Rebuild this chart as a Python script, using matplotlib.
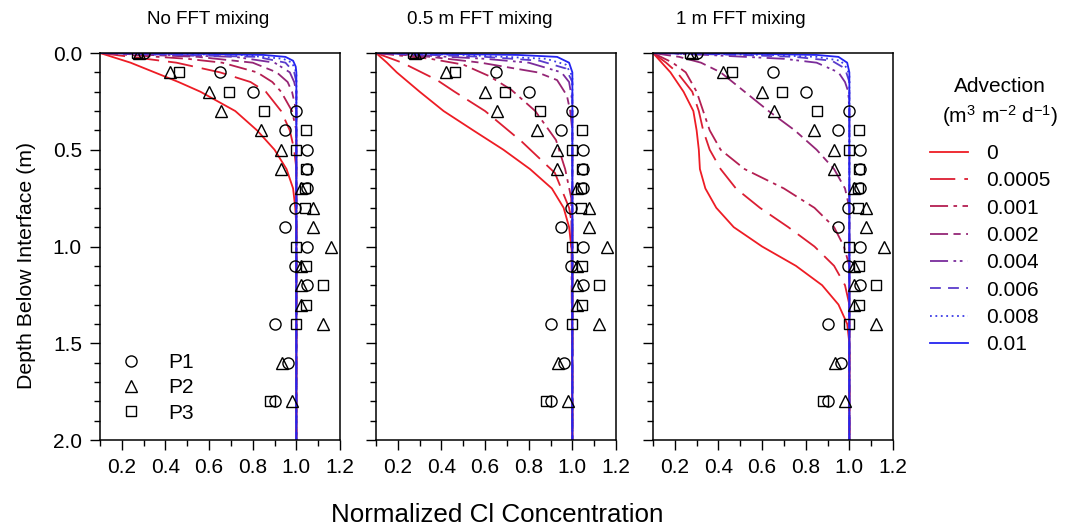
import matplotlib
matplotlib.use('Agg')
import matplotlib.pyplot as plt
from matplotlib.ticker import MultipleLocator, FormatStrFormatter

plt.rcParams['font.family'] = ['Liberation Sans', 'DejaVu Sans']
plt.rcParams['mathtext.fontset'] = 'custom'
plt.rcParams['mathtext.rm'] = 'Liberation Sans'
plt.rcParams['mathtext.it'] = 'Liberation Sans:italic'

# advection rates (m3 m-2 d-1)
adv_labels = ['0', '0.0005', '0.001', '0.002', '0.004', '0.006', '0.008', '0.01']
panel_titles = ['No FFT mixing', '0.5 m FFT mixing', '1 m FFT mixing']

# observed profiles (same data in every panel)
p1_depth = [0, 0.1, 0.2, 0.3, 0.4, 0.5, 0.6, 0.7, 0.8, 0.9, 1.0, 1.1, 1.2, 1.4, 1.6, 1.8]
p1_conc = [0.30, 0.65, 0.80, 1.00, 0.95, 1.05, 1.05, 1.05, 0.995, 0.95, 1.05, 0.995, 1.05, 0.90, 0.96, 0.90]
p2_depth = [0, 0.1, 0.2, 0.3, 0.4, 0.5, 0.6, 0.7, 0.8, 0.9, 1.0, 1.1, 1.2, 1.3, 1.4, 1.6, 1.8]
p2_conc = [0.28, 0.42, 0.60, 0.655, 0.84, 0.93, 0.93, 1.02, 1.075, 1.075, 1.16, 1.02, 1.02, 1.02, 1.12, 0.935, 0.98]
p3_depth = [0, 0.1, 0.2, 0.3, 0.4, 0.5, 0.6, 0.7, 0.8, 1.0, 1.1, 1.2, 1.3, 1.4, 1.8]
p3_conc = [0.27, 0.46, 0.69, 0.85, 1.045, 1.00, 1.045, 1.04, 1.04, 1.00, 1.045, 1.12, 1.045, 1.00, 0.88]

# modelled profiles, no FFT mixing
nofft_depth = [
    [0, 0.05, 0.1, 0.15, 0.2, 0.3, 0.4, 0.5, 0.6, 0.7, 0.8, 0.9, 2.0],
    [0, 0.05, 0.1, 0.15, 0.2, 0.3, 0.4, 0.5, 0.6, 2.0],
    [0, 0.03, 0.05, 0.1, 0.15, 0.2, 0.3, 0.4, 2.0],
    [0, 0.02, 0.05, 0.1, 0.15, 0.2, 0.3, 2.0],
    [0, 0.02, 0.05, 0.1, 0.15, 0.2, 2.0],
    [0, 0.02, 0.05, 0.1, 0.15, 2.0],
    [0, 0.01, 0.03, 0.05, 0.1, 2.0],
    [0, 0.005, 0.01, 0.02, 0.04, 0.07, 0.1, 2.0],
]
nofft_conc = [
    [0.1, 0.24, 0.35, 0.46, 0.56, 0.72, 0.82, 0.90, 0.955, 0.985, 0.995, 1.0, 1.0],
    [0.1, 0.45, 0.65, 0.79, 0.86, 0.93, 0.97, 0.99, 1.0, 1.0],
    [0.1, 0.5, 0.66, 0.82, 0.89, 0.93, 0.98, 1.0, 1.0],
    [0.1, 0.55, 0.80, 0.91, 0.96, 0.98, 1.0, 1.0],
    [0.1, 0.72, 0.90, 0.97, 0.99, 1.0, 1.0],
    [0.1, 0.82, 0.95, 0.99, 1.0, 1.0],
    [0.1, 0.75, 0.94, 0.98, 1.0, 1.0],
    [0.1, 0.6, 0.85, 0.95, 0.985, 0.997, 1.0, 1.0],
]

# modelled profiles, 0.5 m FFT mixing
fft05_depth = [
    [0, 0.05, 0.1, 0.2, 0.3, 0.4, 0.5, 0.6, 0.7, 0.8, 0.9, 1.0, 1.05, 2.0],
    [0, 0.05, 0.14, 0.2, 0.3, 0.46, 0.62, 0.8, 0.9, 2.0],
    [0, 0.03, 0.06, 0.12, 0.19, 0.3, 0.45, 0.6, 0.75, 2.0],
    [0, 0.02, 0.05, 0.1, 0.14, 0.22, 0.3, 0.4, 2.0],
    [0, 0.03, 0.05, 0.1, 0.15, 0.25, 2.0],
    [0, 0.02, 0.04, 0.08, 0.15, 2.0],
    [0, 0.01, 0.03, 0.06, 0.12, 2.0],
    [0, 0.01, 0.02, 0.05, 0.1, 2.0],
]
fft05_conc = [
    [0.1, 0.15, 0.195, 0.30, 0.41, 0.546, 0.684, 0.806, 0.906, 0.96, 0.985, 0.995, 1.0, 1.0],
    [0.1, 0.22, 0.38, 0.46, 0.60, 0.77, 0.92, 0.985, 1.0, 1.0],
    [0.1, 0.35, 0.50, 0.62, 0.72, 0.83, 0.925, 0.967, 0.995, 1.0],
    [0.1, 0.35, 0.58, 0.84, 0.93, 0.975, 0.99, 1.0, 1.0],
    [0.1, 0.6, 0.8, 0.95, 0.985, 1.0, 1.0],
    [0.1, 0.6, 0.85, 0.97, 1.0, 1.0],
    [0.1, 0.5, 0.88, 0.97, 1.0, 1.0],
    [0.1, 0.75, 0.93, 0.985, 1.0, 1.0],
]

# modelled profiles, 1 m FFT mixing
fft1_depth = [
    [0, 0.05, 0.1, 0.15, 0.2, 0.3, 0.4, 0.5, 0.6, 0.7, 0.8, 0.9, 1.0, 1.1, 1.2, 1.3, 1.4, 1.5, 2.0],
    [0, 0.05, 0.1, 0.2, 0.3, 0.4, 0.5, 0.6, 0.7, 0.8, 0.9, 1.0, 1.1, 1.2, 1.3, 2.0],
    [0, 0.05, 0.1, 0.2, 0.3, 0.4, 0.5, 0.6, 0.7, 0.8, 0.9, 1.0, 1.1, 2.0],
    [0, 0.02, 0.05, 0.1, 0.2, 0.3, 0.4, 0.5, 0.6, 0.7, 0.8, 2.0],
    [0, 0.01, 0.03, 0.05, 0.1, 0.15, 0.2, 0.3, 2.0],
    [0, 0.01, 0.02, 0.04, 0.08, 0.15, 2.0],
    [0, 0.01, 0.02, 0.04, 0.08, 0.12, 2.0],
    [0, 0.005, 0.01, 0.02, 0.05, 0.1, 2.0],
]
fft1_conc = [
    [0.1, 0.14, 0.18, 0.21, 0.24, 0.285, 0.30, 0.31, 0.315, 0.34, 0.39, 0.47, 0.60, 0.755, 0.875, 0.95, 0.99, 1.0, 1.0],
    [0.1, 0.16, 0.21, 0.28, 0.31, 0.33, 0.36, 0.41, 0.48, 0.59, 0.72, 0.84, 0.93, 0.98, 1.0, 1.0],
    [0.1, 0.19, 0.25, 0.30, 0.33, 0.36, 0.41, 0.52, 0.70, 0.84, 0.93, 0.975, 1.0, 1.0],
    [0.1, 0.22, 0.32, 0.41, 0.52, 0.63, 0.75, 0.85, 0.93, 0.98, 1.0, 1.0],
    [0.1, 0.35, 0.70, 0.85, 0.95, 0.98, 0.995, 1.0, 1.0],
    [0.1, 0.5, 0.75, 0.92, 0.98, 1.0, 1.0],
    [0.1, 0.62, 0.85, 0.96, 0.99, 1.0, 1.0],
    [0.1, 0.6, 0.85, 0.95, 0.99, 1.0, 1.0],
]

colors = ['#ee1c24', '#dc1e32', '#b41f52', '#942676', '#7a2c9c', '#5a3ccc', '#3c3ce6', '#2424f0']
styles = ['-', (0, (14, 5)), (0, (10, 3, 2, 3)), (0, (10, 3, 4, 3)),
          (0, (10, 3, 1.5, 2, 1.5, 3)), (0, (6, 4)), (0, (1, 2)), '-']

fig = plt.figure(figsize=(10.7, 5.3), dpi=100)
lefts = [100, 376, 653]
axes = [fig.add_axes([l / 1070, 90 / 530, 240 / 1070, 387 / 530]) for l in lefts]
title_x = [208, 480, 741]

model_depth = [nofft_depth, fft05_depth, fft1_depth]
model_conc = [nofft_conc, fft05_conc, fft1_conc]

for k, ax in enumerate(axes):
    for i in range(len(adv_labels)):
        ax.plot(model_conc[k][i], model_depth[k][i], color=colors[i], linestyle=styles[i],
                lw=1.3, label=adv_labels[i], zorder=2)
    ax.plot(p1_conc, p1_depth, 'o', ms=8, mfc='none', mec='black', mew=1, label='P1', zorder=3)
    ax.plot(p2_conc, p2_depth, '^', ms=8, mfc='none', mec='black', mew=1, label='P2', zorder=3)
    ax.plot(p3_conc, p3_depth, 's', ms=7, mfc='none', mec='black', mew=1, label='P3', zorder=3)

    ax.set_xlim(0.1, 1.2)
    ax.set_ylim(2.0, 0.0)
    ax.set_xticks([0.2, 0.4, 0.6, 0.8, 1.0, 1.2])
    ax.xaxis.set_minor_locator(MultipleLocator(0.1))
    ax.set_yticks([0.0, 0.5, 1.0, 1.5, 2.0])
    ax.yaxis.set_minor_locator(MultipleLocator(0.1))
    ax.xaxis.set_major_formatter(FormatStrFormatter('%.1f'))
    ax.yaxis.set_major_formatter(FormatStrFormatter('%.1f'))
    ax.tick_params(which='major', length=7, width=1, labelsize=15, pad=6)
    ax.tick_params(which='minor', length=4, width=1)
    for s in ax.spines.values():
        s.set_linewidth(1.1)
    if k > 0:
        ax.tick_params(labelleft=False)
    fig.text(title_x[k] / 1070, 1 - 20 / 530, panel_titles[k], fontsize=13.5,
             ha='center', va='center')

axes[0].set_ylabel('Depth Below Interface (m)', fontsize=15.3)
axes[0].yaxis.set_label_coords(-0.265, 0.45)
fig.text(497 / 1070, 1 - 515 / 530, 'Normalized Cl Concentration', fontsize=18.7,
         ha='center', va='center')

# marker legend inside the first panel
h, l = axes[0].get_legend_handles_labels()
axes[0].legend(h[8:], l[8:], loc='lower left', bbox_to_anchor=(0.0875, 0.045), frameon=False,
               fontsize=15, handlelength=1.0, handletextpad=1.25, labelspacing=0.3,
               borderpad=0, borderaxespad=0)

# advection legend at the right
fig.text(1000 / 1070, 1 - 87 / 530, 'Advection', fontsize=15, ha='center', va='center')
fig.text(1000 / 1070, 1 - 116 / 530, '(m$^3$ m$^{-2}$ d$^{-1}$)', fontsize=15,
         ha='center', va='center')
fig.legend(h[:8], l[:8], loc='upper left', bbox_to_anchor=(930 / 1070, 1 - 144 / 530),
           frameon=False, fontsize=15, handlelength=1.8, handletextpad=0.9, labelspacing=0.4,
           borderpad=0, borderaxespad=0)

fig.savefig('out.png', dpi=100)
